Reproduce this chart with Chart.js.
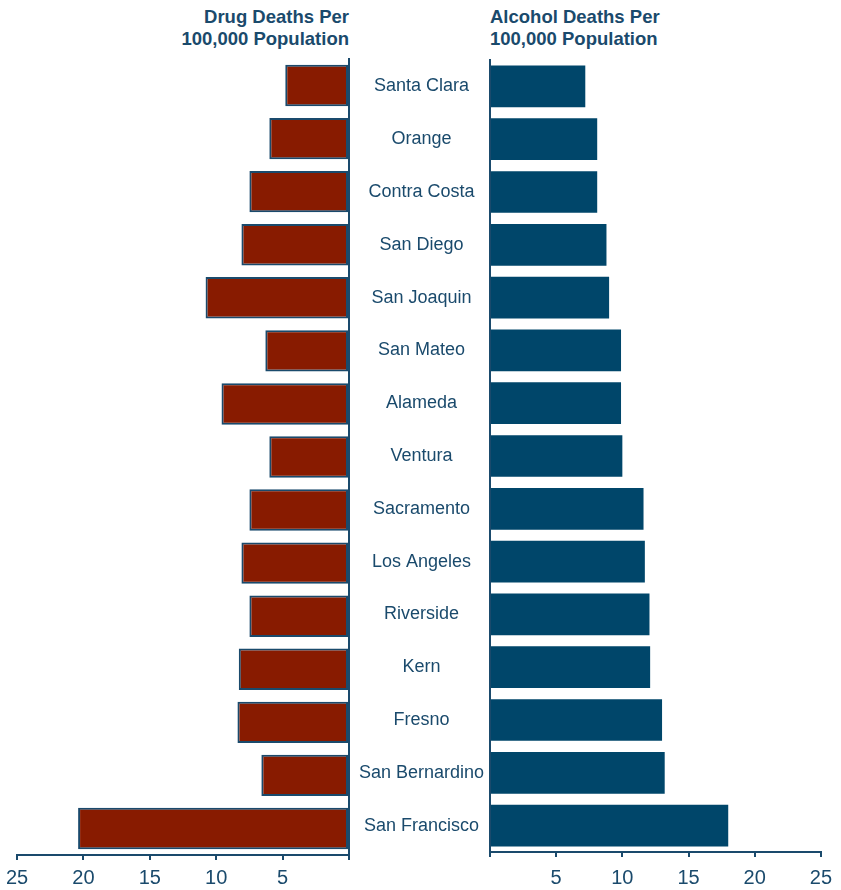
<!DOCTYPE html>
<html>
<head>
<meta charset="utf-8">
<script src="https://cdn.jsdelivr.net/npm/chart.js@4/dist/chart.umd.min.js"></script>
<style>
  html, body { margin: 0; padding: 0; background: #ffffff; }
  body { width: 841px; height: 890px; position: relative; overflow: hidden; font-family: "Liberation Sans", Arial, sans-serif; }
  .title { position: absolute; font-weight: bold; font-size: 18.5px; line-height: 22px; color: #1a4a6c; white-space: nowrap; }
  #leftTitle { right: 492px; top: 6px; text-align: right; }
  #rightTitle { left: 490px; top: 6px; text-align: left; }
  #leftWrap { position: absolute; left: 0; top: 0; width: 360px; height: 890px; }
  #rightWrap { position: absolute; left: 350px; top: 0; width: 491px; height: 890px; }
</style>
</head>
<body>
<div class="title" id="leftTitle">Drug Deaths Per<br>100,000 Population</div>
<div class="title" id="rightTitle">Alcohol Deaths Per<br>100,000 Population</div>
<div id="leftWrap"><canvas id="left"></canvas></div>
<div id="rightWrap"><canvas id="right"></canvas></div>
<script>
const counties = ["Santa Clara", "Orange", "Contra Costa", "San Diego", "San Joaquin", "San Mateo", "Alameda", "Ventura", "Sacramento", "Los Angeles", "Riverside", "Kern", "Fresno", "San Bernardino", "San Francisco"];
const drugDeaths = [4.8, 6.0, 7.5, 8.1, 10.8, 6.3, 9.6, 6.0, 7.5, 8.1, 7.5, 8.3, 8.4, 6.6, 20.4];
const alcoholDeaths = [7.2, 8.1, 8.1, 8.8, 9.0, 9.9, 9.9, 10.0, 11.6, 11.7, 12.05, 12.1, 13.0, 13.2, 18.0];
const axisTicks = [0, 5, 10, 15, 20, 25];

const TEXT = '#1a4a6c';
const AXIS = '#1a4a6c';
const RED = '#881b00';
const BLUE = '#00466a';
const FONT = '"Liberation Sans", Arial, sans-serif';

function xScale(reverse, pad, axisHeight) {
  return {
    type: 'linear',
    position: 'bottom',
    min: axisTicks[0],
    max: axisTicks[axisTicks.length - 1],
    reverse: reverse,
    afterBuildTicks: (s) => { s.ticks = axisTicks.map(v => ({ value: v })); },
    afterFit: (s) => { s.height = axisHeight; },
    ticks: {
      color: TEXT,
      font: { family: FONT, size: 20 },
      padding: pad,
      maxRotation: 0,
      autoSkip: false,
      callback: (v) => (v === 0 ? '' : String(v))
    },
    grid: { display: true, drawOnChartArea: false, drawTicks: true, tickLength: 5, color: AXIS, lineWidth: 2 },
    border: { display: true, color: AXIS, width: 2 }
  };
}

Chart.defaults.animation = false;
Chart.defaults.responsive = false;

const leftCanvas = document.getElementById('left');
leftCanvas.width = 360; leftCanvas.height = 890;
new Chart(leftCanvas, {
  type: 'bar',
  data: {
    labels: counties,
    datasets: [{
      data: drugDeaths,
      backgroundColor: RED,
      borderColor: AXIS,
      borderWidth: 2,
      borderSkipped: false,
      barPercentage: 0.78,
      categoryPercentage: 1.0
    }]
  },
  options: {
    indexAxis: 'y',
    responsive: false,
    animation: false,
    layout: { padding: { left: 17, right: 11, top: 59, bottom: 0 } },
    plugins: { legend: { display: false }, tooltip: { enabled: false } },
    scales: {
      x: xScale(true, 6, 35),
      y: {
        type: 'category',
        position: 'right',
        afterFit: (s) => { s.width = 0; },
        ticks: { display: false },
        grid: { display: false },
        border: { display: true, color: AXIS, width: 2 }
      }
    }
  }
});

const rightCanvas = document.getElementById('right');
rightCanvas.width = 491; rightCanvas.height = 890;
new Chart(rightCanvas, {
  type: 'bar',
  data: {
    labels: counties,
    datasets: [{
      data: alcoholDeaths,
      backgroundColor: BLUE,
      borderWidth: 0,
      barPercentage: 0.79,
      categoryPercentage: 1.0
    }]
  },
  options: {
    indexAxis: 'y',
    responsive: false,
    animation: false,
    layout: { padding: { left: 0, right: 19, top: 60, bottom: 0 } },
    plugins: { legend: { display: false }, tooltip: { enabled: false } },
    scales: {
      x: xScale(false, 9, 38),
      y: {
        type: 'category',
        position: 'left',
        afterFit: (s) => { s.width = 140; },
        ticks: {
          color: TEXT,
          font: { family: FONT, size: 18 },
          crossAlign: 'center',
          padding: 6,
          autoSkip: false
        },
        grid: { display: false, drawTicks: false },
        border: { display: true, color: AXIS, width: 2 }
      }
    }
  }
});
</script>
</body>
</html>
